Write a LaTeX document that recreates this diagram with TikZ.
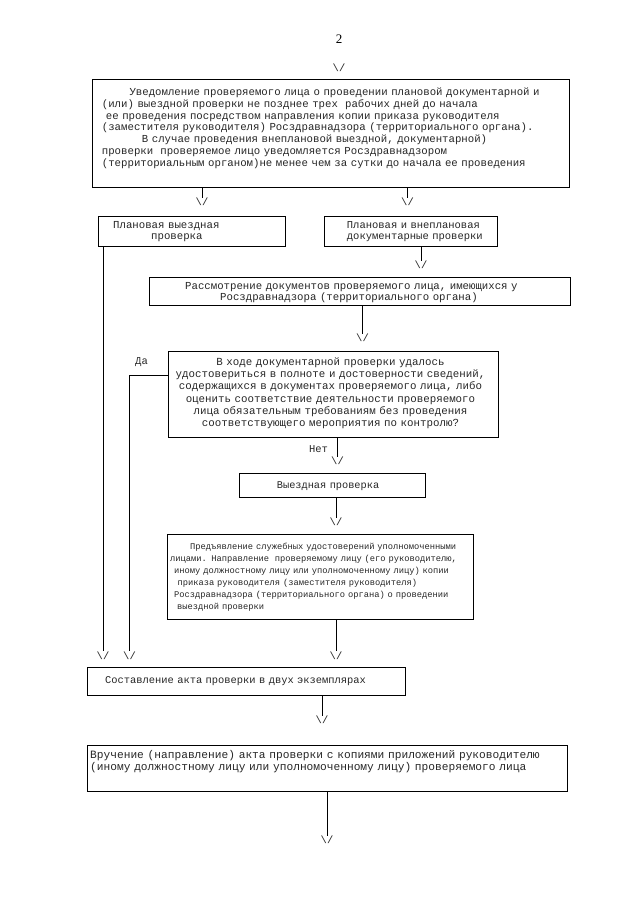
\documentclass[tikz,border=0pt]{standalone}
\usepackage{fontspec}
\newfontfamily\monof{Liberation Mono}
\newfontfamily\serf{Liberation Serif}
\newcommand\myfnt[2]{\monof\fontsize{#1}{#2}\selectfont\lineskiplimit=-30pt\relax}
\begin{document}
\begin{tikzpicture}[x=1pt,y=-1pt,
  box/.style={draw=black, line width=0.9pt, inner sep=0pt, anchor=north west},
  txt/.style={inner sep=0pt, anchor=base west, align=left, text width=520pt, text=black!85},
  tipn/.style={inner sep=0pt, font={\myfnt{10.5}{10.5}}, text=black!85},
  conn/.style={line width=0.9pt},
  lbl/.style={inner sep=0pt, font={\myfnt{10.5}{10.5}}, text=black!85}
]
\useasboundingbox (0,0) rectangle (640,905);

% page number
\node[inner sep=0pt, font={\serf\fontsize{13}{13}\selectfont}] (pg) at (339,39) {2};

% boxes
\node[box, minimum width=477pt, minimum height=108pt] (A) at (92,79) {};
\node[box, minimum width=187pt, minimum height=30pt] (B) at (98,216) {};
\node[box, minimum width=173pt, minimum height=30pt] (C) at (324,216) {};
\node[box, minimum width=420.7pt, minimum height=28pt] (D) at (149.3,276.7) {};
\node[box, minimum width=329.4pt, minimum height=86pt] (E) at (168.3,350.7) {};
\node[box, minimum width=186pt, minimum height=23.6pt] (F) at (239,473.3) {};
\node[box, minimum width=305.4pt, minimum height=85.3pt] (G) at (167.3,534) {};
\node[box, minimum width=317.7pt, minimum height=28.3pt] (H) at (87.3,666.7) {};
\node[box, minimum width=479.4pt, minimum height=45.7pt] (I) at (87.3,745) {};

% texts
\node[txt, font={\myfnt{10.7}{11.8}}] (tA) at (101.7,95.5) {\hspace*{27.6pt}Уведомление проверяемого лица о проведении плановой документарной и\\
(или) выездной проверки не позднее трех\ \ рабочих дней до начала\\
\hspace*{4pt}ее проведения посредством направления копии приказа руководителя\\
(заместителя руководителя) Росздравнадзора (территориального органа).\\
\hspace*{40pt}В случае проведения внеплановой выездной, документарной)\\
проверки\ \ проверяемое лицо уведомляется Росздравнадзором\\
(территориальным органом)не менее чем за сутки до начала ее проведения};

\node[txt, font={\myfnt{10.7}{11.3}}] (tB) at (113,228.5) {Плановая выездная\\
\hspace*{38pt}проверка};

\node[txt, font={\myfnt{10.5}{11.3}}] (tC) at (346.7,228.5) {Плановая и внеплановая\\
документарные проверки};

\node[txt, font={\myfnt{10.7}{10.8}}] (tD) at (185,289.6) {Рассмотрение документов проверяемого лица, имеющихся у\\
\hspace*{35pt}Росздравнадзора (территориального органа)};

\node[txt, anchor=base, align=center, text width=330pt, font={\myfnt{10.8}{12.3}}] (tE) at (330.5,365.3) {В ходе документарной проверки удалось\\
удостовериться в полноте и достоверности сведений,\\
содержащихся в документах проверяемого лица, либо\\
оценить соответствие деятельности проверяемого\\
лица обязательным требованиям без проведения\\
соответствующего мероприятия по контролю?};

\node[txt, font={\myfnt{10.3}{10.3}}] (tF) at (276.7,488.3) {Выездная проверка};

\node[txt, font={\myfnt{8.75}{12}}] (tG) at (170,549.8) {\hspace*{20pt}Предъявление служебных удостоверений уполномоченными\\
лицами. Направление\ \ проверяемому лицу (его руководителю,\\
\hspace*{4pt}иному должностному лицу или уполномоченному лицу) копии\\
\hspace*{7.3pt}приказа руководителя (заместителя руководителя)\\
\hspace*{4pt}Росздравнадзора (территориального органа) о проведении\\
\hspace*{7pt}выездной проверки};

\node[txt, font={\myfnt{10.4}{10.4}}] (tH) at (105,683.3) {Составление акта проверки в двух экземплярах};

\node[txt, font={\myfnt{11.2}{11.5}}] (tI) at (90,758.8) {Вручение (направление) акта проверки с копиями приложений руководителю\\
(иному должностному лицу или уполномоченному лицу) проверяемого лица};

% labels
\node[lbl] (da) at (141.5,362.5) {Да};
\node[lbl] (net) at (318.5,449.5) {Нет};

% arrow tips
\node[tipn] (T0) at (339,67.5) {\textbackslash/};
\node[tipn] (T1) at (202,202) {\textbackslash/};
\node[tipn] (T2) at (407.5,202) {\textbackslash/};
\node[tipn] (T3) at (421,265) {\textbackslash/};
\node[tipn] (T4) at (362.5,338) {\textbackslash/};
\node[tipn] (T5) at (337.5,460.7) {\textbackslash/};
\node[tipn] (T6) at (336,521.7) {\textbackslash/};
\node[tipn] (T7) at (336,655.5) {\textbackslash/};
\node[tipn] (T8) at (103,655.5) {\textbackslash/};
\node[tipn] (T9) at (129.5,655.5) {\textbackslash/};
\node[tipn] (T10) at (322,720) {\textbackslash/};
\node[tipn] (T11) at (327,840) {\textbackslash/};

% connectors
\coordinate (daS) at (168.3,375);
\draw[conn] (T1.north |- A.south) -- (T1.north);
\draw[conn] (T2.north |- A.south) -- (T2.north);
\draw[conn] (T3.north |- C.south) -- (T3.north);
\draw[conn] (T4.north |- D.south) -- (T4.north);
\draw[conn] (T5.north |- E.south) -- (T5.north);
\draw[conn] (T6.north |- F.south) -- (T6.north);
\draw[conn] (T7.north |- G.south) -- (T7.north);
\draw[conn] (T8.north |- B.south) -- (T8.north);
\draw[conn] (daS) -| (T9.north);
\draw[conn] (T10.north |- H.south) -- (T10.north);
\draw[conn] (T11.north |- I.south) -- (T11.north);
\end{tikzpicture}
\end{document}
